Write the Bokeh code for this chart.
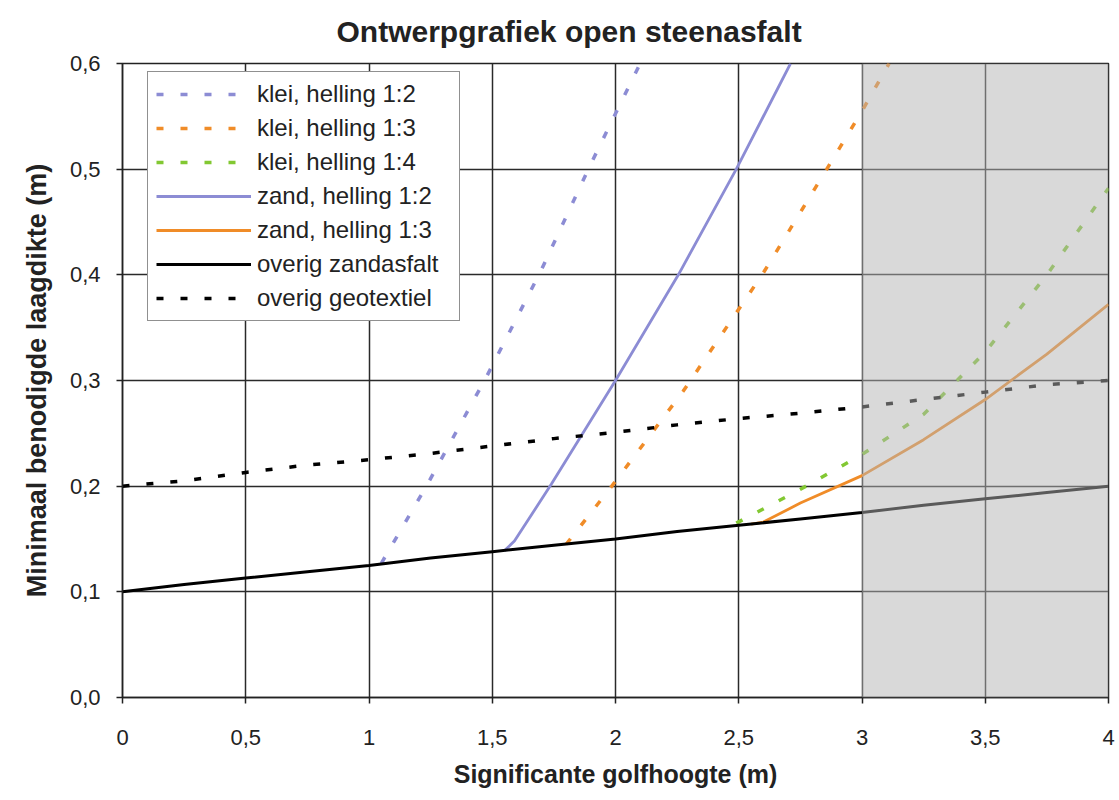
from bokeh.plotting import figure
from bokeh.models import (BoxAnnotation, FixedTicker, Legend, LegendItem)
from bokeh.embed import file_html
from bokeh.resources import INLINE

# ---- data ----
title_text = "Ontwerpgrafiek open steenasfalt"
x_label = "Significante golfhoogte (m)"
y_label = "Minimaal benodigde laagdikte (m)"

x_ticks = [0, 0.5, 1, 1.5, 2, 2.5, 3, 3.5, 4]
x_tick_labels = ["0", "0,5", "1", "1,5", "2", "2,5", "3", "3,5", "4"]
y_ticks = [0, 0.1, 0.2, 0.3, 0.4, 0.5, 0.6]
y_tick_labels = ["0,0", "0,1", "0,2", "0,3", "0,4", "0,5", "0,6"]

klei12_x = [1.05, 1.24, 1.48, 1.70, 1.90, 2.10]
klei12_y = [0.127, 0.203, 0.305, 0.405, 0.505, 0.600]

klei13_x = [1.80, 1.985, 2.275, 2.49, 2.60, 2.857, 3.005, 3.11]
klei13_y = [0.145, 0.200, 0.290, 0.364, 0.402, 0.500, 0.557, 0.600]

klei14_x = [2.49, 2.75, 3.0, 3.25, 3.5, 3.75, 4.0]
klei14_y = [0.165, 0.197, 0.230, 0.268, 0.327, 0.400, 0.482]

zand12_x = [1.55, 1.59, 1.74, 2.0, 2.255, 2.49, 2.71]
zand12_y = [0.139, 0.148, 0.202, 0.300, 0.400, 0.500, 0.600]

zand13_x = [2.55, 2.60, 2.75, 3.0, 3.25, 3.5, 3.75, 4.0]
zand13_y = [0.164, 0.166, 0.184, 0.210, 0.244, 0.282, 0.325, 0.372]

zandasfalt_x = [0, 0.25, 0.5, 0.75, 1.0, 1.25, 1.5, 1.75, 2.0, 2.25, 2.5, 2.75, 3.0, 3.25, 3.5, 3.75, 4.0]
zandasfalt_y = [0.100, 0.107, 0.113, 0.119, 0.125, 0.132, 0.138, 0.144, 0.150, 0.157, 0.163, 0.169, 0.175, 0.182, 0.188, 0.194, 0.200]

geotextiel_x = [0, 0.25, 0.5, 0.75, 1.0, 1.25, 1.5, 1.75, 2.0, 2.25, 2.5, 2.75, 3.0, 3.25, 3.5, 3.75, 4.0]
geotextiel_y = [0.200, 0.205, 0.213, 0.220, 0.225, 0.231, 0.238, 0.245, 0.251, 0.258, 0.264, 0.269, 0.275, 0.282, 0.289, 0.296, 0.300]

shade_from, shade_to = 3.0, 4.0

# ---- styles ----
PURPLE = "#8c8cd4"
ORANGE = "#f08c28"
GREEN = "#82c832"
BLACK = "#000000"
FONT = "Liberation Sans"
TXT = "#222222"
DASH = "7 17"

p = figure(width=1116, height=797, x_range=(0, 4), y_range=(0, 0.6),
           output_backend="svg", toolbar_location=None,
           min_border_left=122, min_border_right=8, min_border_top=63, min_border_bottom=100)
p.background_fill_color = "white"
p.border_fill_color = "white"
p.outline_line_color = "#222222"
p.outline_line_width = 1.5

# title
p.title.text = title_text
p.title.align = "left"
p.title.offset = 214
p.title.vertical_align = "top"
p.title.text_font = FONT
p.title.text_font_style = "bold"
p.title.text_font_size = "30px"
p.title.text_color = TXT
p.title.standoff = 27

# grid
for g in (p.xgrid, p.ygrid):
    g.grid_line_color = "#2a2a2a"
    g.grid_line_width = 1.5
p.xgrid.ticker = FixedTicker(ticks=x_ticks)
p.ygrid.ticker = FixedTicker(ticks=y_ticks)

# axes
p.xaxis.ticker = FixedTicker(ticks=x_ticks)
p.yaxis.ticker = FixedTicker(ticks=y_ticks)
p.xaxis.major_label_overrides = {t: l for t, l in zip(x_ticks, x_tick_labels)}
p.yaxis.major_label_overrides = {t: l for t, l in zip(y_ticks, y_tick_labels)}
for ax in (p.xaxis[0], p.yaxis[0]):
    ax.axis_line_color = "#222222"
    ax.axis_line_width = 1.5
    ax.major_tick_line_color = "#222222"
    ax.major_tick_line_width = 1.5
    ax.major_tick_in = 0
    ax.major_tick_out = 6
    ax.minor_tick_line_color = None
    ax.major_label_text_font = FONT
    ax.major_label_text_font_size = "22px"
    ax.major_label_text_color = TXT
    ax.axis_label_text_font = FONT
    ax.axis_label_text_font_style = "bold"
    ax.axis_label_text_color = TXT
p.xaxis.axis_label = x_label
p.yaxis.axis_label = y_label
p.xaxis.axis_label_text_font_size = "25px"
p.yaxis.axis_label_text_font_size = "27px"
p.xaxis.major_label_standoff = 26
p.yaxis.major_label_standoff = 16
p.xaxis.axis_label_standoff = 12
p.yaxis.axis_label_standoff = 15

# lines
r1 = p.line(klei12_x, klei12_y, line_color=PURPLE, line_width=3.5, line_dash=DASH)
r2 = p.line(klei13_x, klei13_y, line_color=ORANGE, line_width=3.5, line_dash=DASH)
r3 = p.line(klei14_x, klei14_y, line_color=GREEN, line_width=3.5, line_dash=DASH)
r4 = p.line(zand12_x, zand12_y, line_color=PURPLE, line_width=2.8)
r5 = p.line(zand13_x, zand13_y, line_color=ORANGE, line_width=2.8)
r7 = p.line(geotextiel_x, geotextiel_y, line_color=BLACK, line_width=3.5, line_dash=DASH)
r6 = p.line(zandasfalt_x, zandasfalt_y, line_color=BLACK, line_width=3)

# shaded (out-of-range) region, laid over lines
p.add_layout(BoxAnnotation(left=shade_from, right=shade_to, fill_color="#b3b3b3",
                           fill_alpha=0.5, line_alpha=0))

legend = Legend(items=[
    LegendItem(label="klei, helling 1:2", renderers=[r1]),
    LegendItem(label="klei, helling 1:3", renderers=[r2]),
    LegendItem(label="klei, helling 1:4", renderers=[r3]),
    LegendItem(label="zand, helling 1:2", renderers=[r4]),
    LegendItem(label="zand, helling 1:3", renderers=[r5]),
    LegendItem(label="overig zandasfalt", renderers=[r6]),
    LegendItem(label="overig geotextiel", renderers=[r7]),
], location=(25, 376))
legend.label_text_font = FONT
legend.label_text_font_size = "24px"
legend.label_text_color = TXT
legend.glyph_width = 95
legend.glyph_height = 26
legend.label_height = 26
legend.label_width = 194
legend.label_standoff = 6
legend.spacing = 6
legend.padding = 8
legend.margin = 0
legend.border_line_color = "#222222"
legend.border_line_width = 1.2
legend.background_fill_color = "white"
legend.background_fill_alpha = 1
p.add_layout(legend, "center")

open("out.html", "w").write(file_html(p, INLINE))
